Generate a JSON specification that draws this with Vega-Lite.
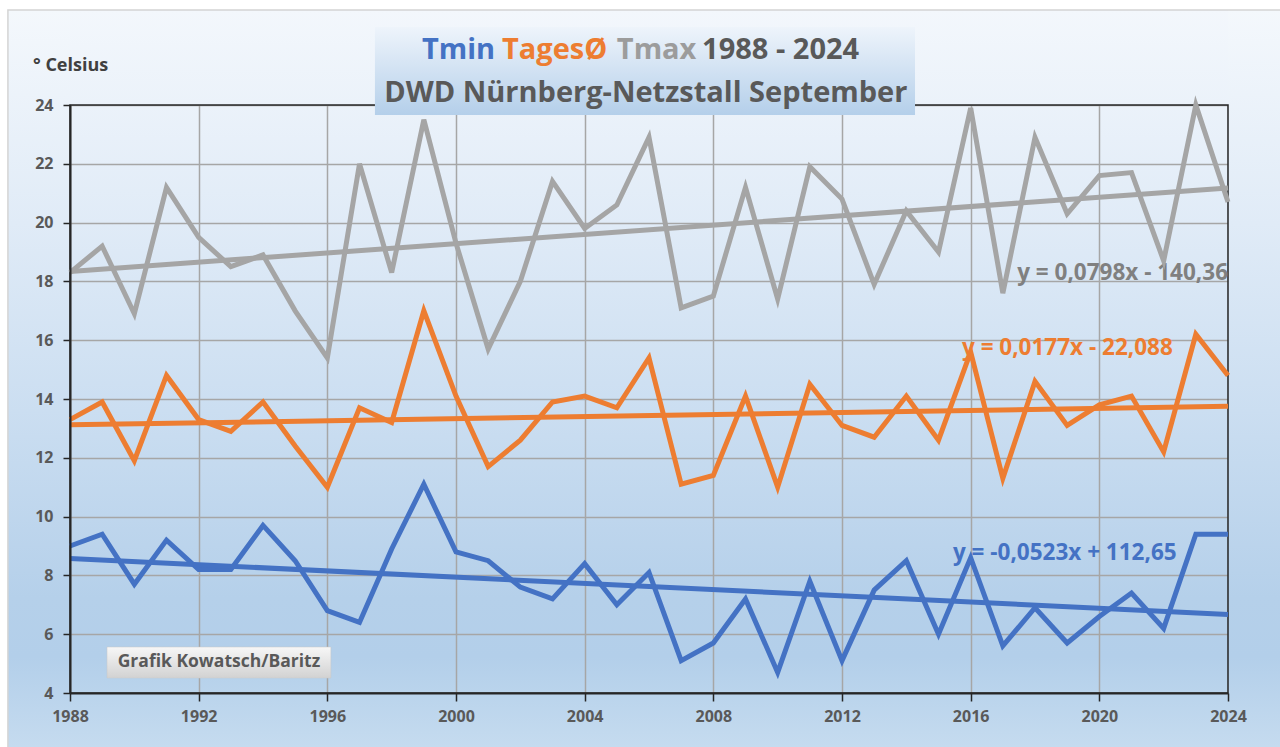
{
  "$schema": "https://vega.github.io/schema/vega-lite/v6.json",
  "width": 1158,
  "height": 588,
  "autosize": {"type": "none"},
  "padding": {"left": 70, "top": 105, "right": 52, "bottom": 54},
  "background": "#ffffff",
  "config": {
    "view": {
      "stroke": null,
      "fill": {"gradient": "linear", "x1": 0, "y1": 0, "x2": 0, "y2": 1,
        "stops": [
          {"offset": 0, "color": "#ebf2fa"},
          {"offset": 0.2025, "color": "#e0ebf7"},
          {"offset": 0.52, "color": "#cbdef1"},
          {"offset": 0.838, "color": "#b5d0ea"},
          {"offset": 0.939, "color": "#b3cfea"},
          {"offset": 1, "color": "#bad4ec"}
        ]}
    },
    "text": {"font": "Open Sans", "fontWeight": "bold"}
  },
  "resolve": {"axis": {"x": "independent", "y": "independent"}},
  "data": {
    "values": [
      {"year": 1988, "Tmin": 9.0, "TagesØ": 13.3, "Tmax": 18.3},
      {"year": 1989, "Tmin": 9.4, "TagesØ": 13.9, "Tmax": 19.2},
      {"year": 1990, "Tmin": 7.7, "TagesØ": 11.9, "Tmax": 16.9},
      {"year": 1991, "Tmin": 9.2, "TagesØ": 14.8, "Tmax": 21.2},
      {"year": 1992, "Tmin": 8.2, "TagesØ": 13.3, "Tmax": 19.5},
      {"year": 1993, "Tmin": 8.2, "TagesØ": 12.9, "Tmax": 18.5},
      {"year": 1994, "Tmin": 9.7, "TagesØ": 13.9, "Tmax": 18.9},
      {"year": 1995, "Tmin": 8.5, "TagesØ": 12.4, "Tmax": 17.0},
      {"year": 1996, "Tmin": 6.8, "TagesØ": 11.0, "Tmax": 15.4},
      {"year": 1997, "Tmin": 6.4, "TagesØ": 13.7, "Tmax": 22.0},
      {"year": 1998, "Tmin": 8.9, "TagesØ": 13.2, "Tmax": 18.3},
      {"year": 1999, "Tmin": 11.1, "TagesØ": 17.0, "Tmax": 23.5},
      {"year": 2000, "Tmin": 8.8, "TagesØ": 14.1, "Tmax": 19.3},
      {"year": 2001, "Tmin": 8.5, "TagesØ": 11.7, "Tmax": 15.7},
      {"year": 2002, "Tmin": 7.6, "TagesØ": 12.6, "Tmax": 18.0},
      {"year": 2003, "Tmin": 7.2, "TagesØ": 13.9, "Tmax": 21.4},
      {"year": 2004, "Tmin": 8.4, "TagesØ": 14.1, "Tmax": 19.8},
      {"year": 2005, "Tmin": 7.0, "TagesØ": 13.7, "Tmax": 20.6},
      {"year": 2006, "Tmin": 8.1, "TagesØ": 15.4, "Tmax": 22.9},
      {"year": 2007, "Tmin": 5.1, "TagesØ": 11.1, "Tmax": 17.1},
      {"year": 2008, "Tmin": 5.7, "TagesØ": 11.4, "Tmax": 17.5},
      {"year": 2009, "Tmin": 7.2, "TagesØ": 14.1, "Tmax": 21.2},
      {"year": 2010, "Tmin": 4.7, "TagesØ": 11.0, "Tmax": 17.4},
      {"year": 2011, "Tmin": 7.8, "TagesØ": 14.5, "Tmax": 21.9},
      {"year": 2012, "Tmin": 5.1, "TagesØ": 13.1, "Tmax": 20.8},
      {"year": 2013, "Tmin": 7.5, "TagesØ": 12.7, "Tmax": 17.9},
      {"year": 2014, "Tmin": 8.5, "TagesØ": 14.1, "Tmax": 20.4},
      {"year": 2015, "Tmin": 6.0, "TagesØ": 12.6, "Tmax": 19.0},
      {"year": 2016, "Tmin": 8.6, "TagesØ": 15.6, "Tmax": 23.9},
      {"year": 2017, "Tmin": 5.6, "TagesØ": 11.3, "Tmax": 17.6},
      {"year": 2018, "Tmin": 6.9, "TagesØ": 14.6, "Tmax": 22.9},
      {"year": 2019, "Tmin": 5.7, "TagesØ": 13.1, "Tmax": 20.3},
      {"year": 2020, "Tmin": 6.6, "TagesØ": 13.8, "Tmax": 21.6},
      {"year": 2021, "Tmin": 7.4, "TagesØ": 14.1, "Tmax": 21.7},
      {"year": 2022, "Tmin": 6.2, "TagesØ": 12.2, "Tmax": 18.7},
      {"year": 2023, "Tmin": 9.4, "TagesØ": 16.2, "Tmax": 24.0},
      {"year": 2024, "Tmin": 9.4, "TagesØ": 14.8, "Tmax": 20.7}
    ]
  },
  "layer": [
    {
      "data": {"values": [{}]},
      "mark": {"type": "rect", "fill": {"gradient": "linear", "x1": 0, "y1": 0, "x2": 0, "y2": 1,
        "stops": [{"offset": 0, "color": "#f3f7fc"}, {"offset": 1, "color": "#ebf2fa"}]}},
      "encoding": {
        "x": {"datum": 1986.07, "type": "quantitative", "axis": null},
        "x2": {"datum": 2025.7},
        "y": {"datum": 27.23, "type": "quantitative", "axis": null},
        "y2": {"datum": 24}
      }
    },
    {
      "data": {"values": [{}]},
      "mark": {"type": "rect", "fill": {"gradient": "linear", "x1": 0, "y1": 0, "x2": 0, "y2": 1,
        "stops": [
          {"offset": 0, "color": "#f4f8fc"},
          {"offset": 0.29, "color": "#e0ebf7"},
          {"offset": 0.544, "color": "#cbdef1"},
          {"offset": 0.797, "color": "#b5d0ea"},
          {"offset": 0.878, "color": "#b3cfea"},
          {"offset": 1, "color": "#c5dbef"}
        ]}},
      "encoding": {
        "x": {"datum": 1986.07, "type": "quantitative", "axis": null},
        "x2": {"datum": 1988},
        "y": {"datum": 27.23, "type": "quantitative", "axis": null},
        "y2": {"datum": 2.16}
      }
    },
    {
      "data": {"values": [{}]},
      "mark": {"type": "rect", "fill": {"gradient": "linear", "x1": 0, "y1": 0, "x2": 0, "y2": 1,
        "stops": [
          {"offset": 0, "color": "#f4f8fc"},
          {"offset": 0.29, "color": "#e0ebf7"},
          {"offset": 0.544, "color": "#cbdef1"},
          {"offset": 0.797, "color": "#b5d0ea"},
          {"offset": 0.878, "color": "#b3cfea"},
          {"offset": 1, "color": "#c5dbef"}
        ]}},
      "encoding": {
        "x": {"datum": 2024, "type": "quantitative", "axis": null},
        "x2": {"datum": 2025.7},
        "y": {"datum": 27.23, "type": "quantitative", "axis": null},
        "y2": {"datum": 2.16}
      }
    },
    {
      "data": {"values": [{}]},
      "mark": {"type": "rect", "fill": {"gradient": "linear", "x1": 0, "y1": 0, "x2": 0, "y2": 1,
        "stops": [{"offset": 0, "color": "#bad4ec"}, {"offset": 1, "color": "#c5dbef"}]}},
      "encoding": {
        "x": {"datum": 1988, "type": "quantitative", "axis": null},
        "x2": {"datum": 2024},
        "y": {"datum": 4, "type": "quantitative", "axis": null},
        "y2": {"datum": 2.16}
      }
    },
    {
      "data": {"values": [{}]},
      "mark": {"type": "rect", "filled": false, "stroke": "#d4d4d4", "strokeWidth": 1.5},
      "encoding": {
        "x": {"datum": 1986.07, "type": "quantitative", "axis": null},
        "x2": {"datum": 2027},
        "y": {"datum": 27.23, "type": "quantitative", "axis": null},
        "y2": {"datum": 1}
      }
    },
    {
      "data": {"values": [{}]},
      "mark": {"type": "rect", "filled": false, "stroke": "#262626", "strokeWidth": 1.5},
      "encoding": {
        "x": {"datum": 1988, "type": "quantitative", "axis": null},
        "x2": {"datum": 2024},
        "y": {"datum": 24, "type": "quantitative", "axis": null},
        "y2": {"datum": 4}
      }
    },
    {
      "data": {"values": [{}]},
      "mark": {"type": "text", "text": "y = 0,0798x - 140,36", "fontSize": 22.5, "color": "#808080", "align": "right", "baseline": "middle"},
      "encoding": {
        "x": {"datum": 2024, "type": "quantitative", "axis": null},
        "y": {"datum": 18.3, "type": "quantitative", "axis": null}
      }
    },
    {
      "data": {"values": [{}]},
      "mark": {"type": "text", "text": "y = 0,0177x - 22,088", "fontSize": 22.5, "color": "#ED7D31", "align": "left", "baseline": "middle"},
      "encoding": {
        "x": {"datum": 2015.73, "type": "quantitative", "axis": null},
        "y": {"datum": 15.73, "type": "quantitative", "axis": null}
      }
    },
    {
      "data": {"values": [{}]},
      "mark": {"type": "text", "text": "y = -0,0523x + 112,65", "fontSize": 22.5, "color": "#4472C4", "align": "left", "baseline": "middle"},
      "encoding": {
        "x": {"datum": 2015.45, "type": "quantitative",
          "axis": {"orient": "bottom", "values": [1988, 1992, 1996, 2000, 2004, 2008, 2012, 2016, 2020, 2024], "format": "d",
            "grid": false, "title": null, "zindex": 1, "labelFlush": false, "labelOverlap": false,
            "domain": true, "domainColor": "#262626", "domainWidth": 2,
            "ticks": true, "tickSize": 8, "tickColor": "#262626", "tickWidth": 1.5,
            "labelFont": "Open Sans", "labelFontWeight": "bold", "labelFontSize": 16, "labelColor": "#595959", "labelPadding": 7}},
        "y": {"datum": 8.76, "type": "quantitative",
          "axis": {"orient": "left", "values": [4, 6, 8, 10, 12, 14, 16, 18, 20, 22, 24],
            "grid": false, "title": null, "zindex": 1, "labelFlush": false, "labelOverlap": false,
            "domain": true, "domainColor": "#262626", "domainWidth": 2,
            "ticks": true, "tickSize": 7, "tickColor": "#262626", "tickWidth": 1.5,
            "labelFont": "Open Sans", "labelFontWeight": "bold", "labelFontSize": 16, "labelColor": "#595959", "labelPadding": 10}}
      }
    },
    {
      "transform": [{"fold": ["Tmin", "TagesØ", "Tmax"], "as": ["series", "value"]}],
      "mark": {"type": "line", "strokeWidth": 5, "strokeJoin": "miter"},
      "encoding": {
        "x": {"field": "year", "type": "quantitative",
          "scale": {"domain": [1988, 2024], "nice": false, "zero": false},
          "axis": {"orient": "bottom", "values": [1988, 1992, 1996, 2000, 2004, 2008, 2012, 2016, 2020, 2024],
            "grid": true, "gridColor": "#a6a6a6", "gridWidth": 1.5, "labels": false, "ticks": false, "domain": false, "title": null, "zindex": 0}},
        "y": {"field": "value", "type": "quantitative",
          "scale": {"domain": [4, 24], "nice": false, "zero": false},
          "axis": {"orient": "left", "values": [4, 6, 8, 10, 12, 14, 16, 18, 20, 22, 24],
            "grid": true, "gridColor": "#a6a6a6", "gridWidth": 1.5, "labels": false, "ticks": false, "domain": false, "title": null, "zindex": 0}},
        "color": {"field": "series", "type": "nominal",
          "scale": {"domain": ["Tmin", "TagesØ", "Tmax"], "range": ["#4472C4", "#ED7D31", "#A5A5A5"]}, "legend": null}
      }
    },
    {
      "transform": [
        {"fold": ["Tmin", "TagesØ", "Tmax"], "as": ["series", "value"]},
        {"regression": "value", "on": "year", "groupby": ["series"]}
      ],
      "mark": {"type": "line", "strokeWidth": 5},
      "encoding": {
        "x": {"field": "year", "type": "quantitative", "axis": null},
        "y": {"field": "value", "type": "quantitative", "axis": null},
        "color": {"field": "series", "type": "nominal", "legend": null}
      }
    },
    {
      "data": {"values": [{}]},
      "mark": {"type": "rect", "stroke": "#c8c8c8", "strokeWidth": 0.5, "fill": {"gradient": "linear", "x1": 0, "y1": 0, "x2": 0, "y2": 1,
        "stops": [{"offset": 0, "color": "#f7f7f7"}, {"offset": 1, "color": "#d2d2d2"}]}},
      "encoding": {
        "x": {"datum": 1989.15, "type": "quantitative", "axis": null},
        "x2": {"datum": 1996.11},
        "y": {"datum": 5.565, "type": "quantitative", "axis": null},
        "y2": {"datum": 4.51}
      }
    },
    {
      "data": {"values": [{}]},
      "mark": {"type": "text", "text": "Grafik Kowatsch/Baritz", "fontSize": 17.5, "color": "#595959", "align": "center", "baseline": "middle"},
      "encoding": {
        "x": {"datum": 1992.63, "type": "quantitative", "axis": null},
        "y": {"datum": 5.04, "type": "quantitative", "axis": null}
      }
    },
    {
      "data": {"values": [{}]},
      "mark": {"type": "rect", "fill": {"gradient": "linear", "x1": 0, "y1": 0, "x2": 0, "y2": 1,
        "stops": [{"offset": 0, "color": "#eef4fb"}, {"offset": 1, "color": "#b4cfea"}]}},
      "encoding": {
        "x": {"datum": 1997.48, "type": "quantitative", "axis": null},
        "x2": {"datum": 2014.27},
        "y": {"datum": 26.65, "type": "quantitative", "axis": null},
        "y2": {"datum": 23.66}
      }
    },
    {
      "data": {"values": [{}]},
      "mark": {"type": "text", "text": "Tmin", "fontSize": 29, "color": "#4472C4", "align": "left", "baseline": "alphabetic"},
      "encoding": {
        "x": {"datum": 1998.94, "type": "quantitative", "axis": null},
        "y": {"datum": 25.55, "type": "quantitative", "axis": null}
      }
    },
    {
      "data": {"values": [{}]},
      "mark": {"type": "text", "text": "TagesØ", "fontSize": 29, "color": "#ED7D31", "align": "left", "baseline": "alphabetic"},
      "encoding": {
        "x": {"datum": 2001.43, "type": "quantitative", "axis": null},
        "y": {"datum": 25.55, "type": "quantitative", "axis": null}
      }
    },
    {
      "data": {"values": [{}]},
      "mark": {"type": "text", "text": "Tmax", "fontSize": 29, "color": "#9c9c9c", "align": "left", "baseline": "alphabetic"},
      "encoding": {
        "x": {"datum": 2005.0, "type": "quantitative", "axis": null},
        "y": {"datum": 25.55, "type": "quantitative", "axis": null}
      }
    },
    {
      "data": {"values": [{}]},
      "mark": {"type": "text", "text": "1988 - 2024", "fontSize": 29, "color": "#595959", "align": "left", "baseline": "alphabetic"},
      "encoding": {
        "x": {"datum": 2007.65, "type": "quantitative", "axis": null},
        "y": {"datum": 25.55, "type": "quantitative", "axis": null}
      }
    },
    {
      "data": {"values": [{}]},
      "mark": {"type": "text", "text": "DWD Nürnberg-Netzstall September", "fontSize": 29, "color": "#595959", "align": "center", "baseline": "alphabetic"},
      "encoding": {
        "x": {"datum": 2005.9, "type": "quantitative", "axis": null},
        "y": {"datum": 24.11, "type": "quantitative", "axis": null}
      }
    },
    {
      "data": {"values": [{}]},
      "mark": {"type": "text", "text": "° Celsius", "fontSize": 18, "color": "#404040", "align": "left", "baseline": "middle"},
      "encoding": {
        "x": {"datum": 1986.85, "type": "quantitative", "axis": null},
        "y": {"datum": 25.33, "type": "quantitative", "axis": null}
      }
    }
  ]
}
